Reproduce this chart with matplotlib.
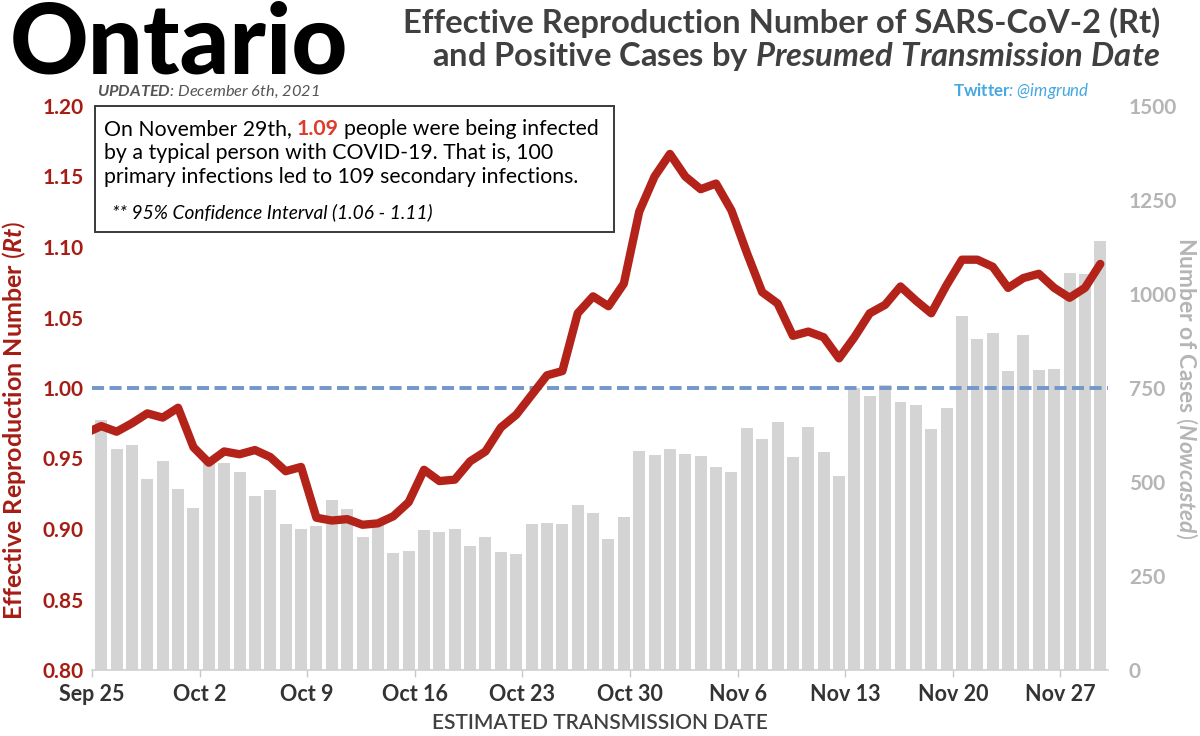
import numpy as np
import matplotlib
matplotlib.use('Agg')
import matplotlib.pyplot as plt
from matplotlib.patches import Rectangle

# === DATA ===
# Rt estimate, one value per day from Sep 24 to Nov 29 (Sep 24 only shows at the clipped left edge)
rt = [0.968,
      0.973, 0.969, 0.975, 0.982, 0.979, 0.986, 0.958, 0.947, 0.955, 0.953,
      0.956, 0.951, 0.941, 0.944, 0.908, 0.906, 0.907, 0.903, 0.904, 0.909,
      0.919, 0.942, 0.934, 0.935, 0.948, 0.955, 0.972, 0.981, 0.995, 1.009,
      1.012, 1.053, 1.065, 1.058, 1.074, 1.125, 1.150, 1.166, 1.150, 1.141,
      1.145, 1.126, 1.096, 1.068, 1.060, 1.037, 1.040, 1.036, 1.021, 1.036,
      1.053, 1.059, 1.072, 1.062, 1.053, 1.073, 1.091, 1.091, 1.086, 1.071,
      1.078, 1.081, 1.071, 1.064, 1.071, 1.088]

# positive cases (nowcasted), Sep 25 .. Nov 29
cases = [665, 588, 599, 509, 557, 481, 430, 565, 551, 527,
         464, 480, 388, 375, 382, 453, 428, 355, 386, 310,
         317, 373, 368, 375, 329, 355, 314, 309, 388, 392,
         388, 440, 418, 348, 408, 583, 572, 589, 575, 570,
         539, 527, 644, 614, 660, 567, 646, 579, 515, 749,
         729, 758, 713, 706, 642, 697, 941, 879, 896, 796,
         891, 798, 800, 1056, 1054, 1141]

tick_labels = ['Sep 25', 'Oct 2', 'Oct 9', 'Oct 16', 'Oct 23', 'Oct 30',
               'Nov 6', 'Nov 13', 'Nov 20', 'Nov 27']
rt_ticks = [0.80, 0.85, 0.90, 0.95, 1.00, 1.05, 1.10, 1.15, 1.20]
case_ticks = [0, 250, 500, 750, 1000, 1250, 1500]

# === STYLE ===
plt.rcParams['font.family'] = ['Lato', 'DejaVu Sans']
plt.rcParams['mathtext.fontset'] = 'custom'
plt.rcParams['mathtext.it'] = 'Lato:italic:bold'
plt.rcParams['mathtext.bf'] = 'Lato:bold'
plt.rcParams['mathtext.rm'] = 'Lato'

RED = '#b3231a'
GREY_BAR = '#d4d4d4'
DARK = '#404040'

W, H = 1200, 736
def fx(x):
    return x / W
def fy(y):
    return 1 - y / H

fig = plt.figure(figsize=(12, 7.36), dpi=100)
ax = fig.add_axes([fx(92), fy(670), fx(1108) - fx(92), fy(106) - fy(670)])
ax2 = ax.twinx()
ax.set_zorder(2)
ax2.set_zorder(1)
ax.patch.set_visible(False)

# bars (right axis)
xb = np.arange(len(cases))
ax2.bar(xb, cases, width=0.78, color=GREY_BAR, zorder=1)
ax2.set_ylim(0, 1500)
ax2.set_yticks(case_ticks)
ax2.set_yticklabels([str(v) for v in case_ticks])

# Rt line (left axis)
xr = np.arange(len(rt)) - 1
ax.plot(xr, rt, color=RED, lw=6, solid_joinstyle='round', solid_capstyle='round', zorder=3)
ax.axhline(1.0, color='#7297c8', lw=2.8, dashes=(3.1, 1.4), zorder=2)
ax.set_ylim(0.8, 1.2)
ax.set_xlim(-0.6, 65.5)
ax.set_yticks(rt_ticks)
ax.set_yticklabels(['%.2f' % v for v in rt_ticks])
ax.set_xticks(np.arange(0, 64, 7) - 0.6)
ax.set_xticklabels(tick_labels)

for a in (ax, ax2):
    for s in a.spines.values():
        s.set_visible(False)
ax.spines['bottom'].set_visible(True)
ax.spines['bottom'].set_color('#d0d0d0')
ax.spines['bottom'].set_linewidth(1.2)

ax.tick_params(axis='y', length=0, pad=6, labelsize=15, labelcolor='#a51d14')
ax.tick_params(axis='x', length=5, width=1, color='#c8c8c8', pad=5, labelsize=15.5, labelcolor='#333333')
ax2.tick_params(axis='y', length=0, pad=15, labelsize=15, labelcolor='#b5b5b5')
for lbl in ax.get_yticklabels() + ax.get_xticklabels() + ax2.get_yticklabels():
    lbl.set_fontweight('bold')

# axis titles
fig.text(fx(14), fy(420), r'Effective Reproduction Number $\mathit{(Rt)}$',
         rotation=90, ha='center', va='center', fontsize=18, fontweight='bold', color='#a51d14')
fig.text(fx(1187), fy(388), r'Number of Cases $\mathit{(Nowcasted)}$',
         rotation=270, ha='center', va='center', fontsize=16.5, fontweight='bold', color='#b5b5b5')
fig.text(fx(600), fy(723), 'ESTIMATED TRANSMISSION DATE', ha='center', va='center',
         fontsize=15, fontweight='semibold', color=DARK)

# titles
fig.text(fx(10), fy(74), 'Ontario', fontsize=70, fontweight='black', color='black', va='baseline')
fig.text(fx(1160), fy(33), 'Effective Reproduction Number of SARS-CoV-2 (Rt)', ha='right',
         va='baseline', fontsize=23.6, fontweight='bold', color=DARK)
fig.text(fx(1160), fy(66), r'and Positive Cases by $\mathit{Presumed\ Transmission\ Date}$',
         ha='right', va='baseline', fontsize=23.6, fontweight='bold', color=DARK)
fig.text(fx(97), fy(96), r'$\mathit{UPDATED}$: December 6th, 2021', va='baseline',
         fontsize=11.8, fontstyle='italic', color='#555555')
fig.text(fx(1090), fy(96), r'$\mathbf{Twitter}$: @imgrund', ha='right', va='baseline',
         fontsize=12.2, fontstyle='italic', color='#45a8e0')

# annotation box
box = Rectangle((fx(95), fy(232)), fx(614) - fx(95), fy(106) - fy(232), transform=fig.transFigure,
                facecolor='white', edgecolor='#3a3a3a', lw=1.4, zorder=10)
fig.add_artist(box)

renderer = fig.canvas.get_renderer()
x = fx(104)
parts = [('On November 29th,', dict(color='black')),
         ('1.09', dict(color='#e03a2c', fontweight='bold')),
         ('people were being infected', dict(color='black'))]
for s, kw in parts:
    t = fig.text(x, fy(135), s, fontsize=15.3, va='baseline', zorder=11, **kw)
    bb = t.get_window_extent(renderer)
    x = bb.x1 / W + 5 / W
fig.text(fx(104), fy(159), 'by a typical person with COVID-19. That is, 100', fontsize=15.3,
         va='baseline', zorder=11)
fig.text(fx(104), fy(183), 'primary infections led to 109 secondary infections.', fontsize=15.3,
         va='baseline', zorder=11)
fig.text(fx(112), fy(218), '** 95% Confidence Interval (1.06 - 1.11)', fontsize=13.8,
         fontstyle='italic', va='baseline', zorder=11)

fig.savefig('out.png', dpi=100)
